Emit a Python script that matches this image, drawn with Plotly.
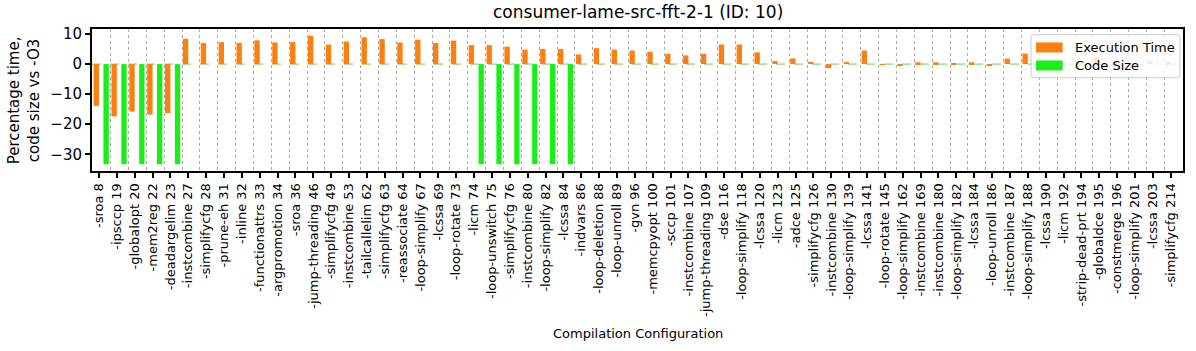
import plotly.graph_objects as go

title_text = "consumer-lame-src-fft-2-1 (ID: 10)"

categories = [
    "-sroa 8", "-ipsccp 19", "-globalopt 20", "-mem2reg 22", "-deadargelim 23",
    "-instcombine 27", "-simplifycfg 28", "-prune-eh 31", "-inline 32", "-functionattrs 33",
    "-argpromotion 34", "-sroa 36", "-jump-threading 46", "-simplifycfg 49", "-instcombine 53",
    "-tailcallelim 62", "-simplifycfg 63", "-reassociate 64", "-loop-simplify 67", "-lcssa 69",
    "-loop-rotate 73", "-licm 74", "-loop-unswitch 75", "-simplifycfg 76", "-instcombine 80",
    "-loop-simplify 82", "-lcssa 84", "-indvars 86", "-loop-deletion 88", "-loop-unroll 89",
    "-gvn 96", "-memcpyopt 100", "-sccp 101", "-instcombine 107", "-jump-threading 109",
    "-dse 116", "-loop-simplify 118", "-lcssa 120", "-licm 123", "-adce 125",
    "-simplifycfg 126", "-instcombine 130", "-loop-simplify 139", "-lcssa 141", "-loop-rotate 145",
    "-loop-simplify 162", "-instcombine 169", "-instcombine 180", "-loop-simplify 182", "-lcssa 184",
    "-loop-unroll 186", "-instcombine 187", "-loop-simplify 188", "-lcssa 190", "-licm 192",
    "-strip-dead-prt 194", "-globaldce 195", "-constmerge 196", "-loop-simplify 201", "-lcssa 203",
    "-simplifycfg 214",
]

exec_time = [
    -13.9, -17.4, -15.8, -16.8, -16.3,
    8.4, 7.0, 7.3, 7.0, 7.9,
    7.2, 7.3, 9.4, 6.5, 7.5,
    8.9, 8.3, 7.2, 8.1, 7.0,
    7.8, 6.3, 6.3, 5.8, 4.8,
    5.0, 5.0, 3.2, 5.3, 4.8,
    4.5, 4.1, 3.4, 2.9, 3.4,
    6.5, 6.5, 3.9, 1.0, 1.9,
    0.7, -1.3, 0.7, 4.5, -0.3,
    -0.6, 0.6, 0.6, 0.3, 0.6,
    -0.5, 1.8, 3.5, 0.3, 0.2,
    0.3, 2.4, 0.3, 0.3, 0.9,
    0.6,
]

code_size = [
    -33.3, -33.3, -33.3, -33.3, -33.3,
    0, 0, 0, 0, 0,
    0, 0, 0, 0, 0,
    0, 0, 0, 0, 0,
    0, -33.3, -33.3, -33.3, -33.3,
    -33.3, -33.3, 0, 0, 0,
    0, 0, 0, 0, 0,
    0, 0, 0, 0, 0,
    0, 0, 0, 0, 0,
    0, 0, 0, 0, 0,
    0, 0, 0, 0, 0,
    0, 0, 0, 0, 0,
    0,
]

series_names = ["Execution Time", "Code Size"]
series_colors = ["#ff7f0e", "#1aee1a"]
y_ticks = [-30, -20, -10, 0, 10]

idx = list(range(len(categories)))
FONT = "DejaVu Sans"

fig = go.Figure()
fig.add_trace(go.Bar(
    x=idx, y=exec_time, name=series_names[0],
    marker=dict(color=series_colors[0], line=dict(width=0)),
    width=0.3, offset=-0.3,
))
fig.add_trace(go.Bar(
    x=idx, y=code_size, name=series_names[1],
    marker=dict(color=series_colors[1], line=dict(width=0)),
    width=0.3, offset=0.25,
))

# zero reference line
fig.add_shape(type="line", xref="paper", yref="y", x0=0, x1=1, y0=0, y1=0,
              line=dict(color="#66cc66", width=1, dash="dash"), layer="below")

# matplotlib-style legend box (paper coordinates)
bx0, bx1, by0, by1 = 0.8607, 0.9973, 0.6563, 0.9598
rx, ry = 0.003, 0.021
path = (f"M {bx0+rx},{by1} L {bx1-rx},{by1} Q {bx1},{by1} {bx1},{by1-ry} "
        f"L {bx1},{by0+ry} Q {bx1},{by0} {bx1-rx},{by0} "
        f"L {bx0+rx},{by0} Q {bx0},{by0} {bx0},{by0+ry} "
        f"L {bx0},{by1-ry} Q {bx0},{by1} {bx0+rx},{by1} Z")
fig.add_shape(type="path", path=path, xref="paper", yref="paper",
              fillcolor="rgba(255,255,255,0.8)", line=dict(color="#cccccc", width=1))
legend_rows = [(0.9054, 0.8349, 0.8701), (0.7784, 0.7078, 0.7431)]
annotations = []
for (ytop, ybot, ymid), name, col in zip(legend_rows, series_names, series_colors):
    fig.add_shape(type="rect", xref="paper", yref="paper", x0=0.8653, x1=0.8897,
                  y0=ybot, y1=ytop, fillcolor=col, line=dict(width=0))
    annotations.append(dict(text=name, xref="paper", yref="paper", x=0.8989, y=ymid,
                            xanchor="left", yanchor="middle", showarrow=False,
                            font=dict(family=FONT, size=13)))

annotations += [
    dict(text=title_text, xref="paper", yref="paper", x=0.5, y=1,
         yshift=17, xanchor="center", yanchor="middle", showarrow=False,
         font=dict(family=FONT, size=17)),
    dict(text="Compilation Configuration", xref="paper", yref="paper", x=0.5, y=-1.143,
         xanchor="center", yanchor="middle", showarrow=False,
         font=dict(family=FONT, size=13)),
    dict(text="Percentage time,<br>code size vs -O3", xref="paper", yref="paper",
         x=-0.062, y=0.5, xanchor="center", yanchor="middle", textangle=-90,
         showarrow=False, font=dict(family=FONT, size=15)),
]

fig.update_layout(
    width=1196, height=351,
    margin=dict(l=92, r=13, t=29, b=180, autoexpand=False),
    paper_bgcolor="white", plot_bgcolor="white",
    barmode="overlay",
    font=dict(family=FONT, size=12, color="black"),
    showlegend=False,
    annotations=annotations,
)

fig.update_xaxes(
    range=[-0.39, len(categories) - 1 + 0.69],
    tickvals=idx, ticktext=categories, tickangle=-90,
    tickfont=dict(family=FONT, size=13),
    ticks="outside", ticklen=5, tickwidth=2, tickcolor="black",
    showline=True, linecolor="black", linewidth=2, mirror=True,
    showgrid=False, zeroline=False,
    minor=dict(tickvals=[i - 0.35 for i in idx[1:]], showgrid=True,
               gridcolor="#aaaaaa", griddash="dot", gridwidth=1, ticklen=0),
)
fig.update_yaxes(
    range=[-35.57, 11.67],
    tickvals=y_ticks,
    tickfont=dict(family=FONT, size=15),
    ticks="outside", ticklen=5, tickwidth=2, tickcolor="black",
    showline=True, linecolor="black", linewidth=2, mirror=True,
    showgrid=False, zeroline=False,
)

# remove the browser's default 8px body margin so the figure fills the window exactly
fig.write_html("out.html", config={"displayModeBar": False},
               post_script="document.body.style.margin='0';")
